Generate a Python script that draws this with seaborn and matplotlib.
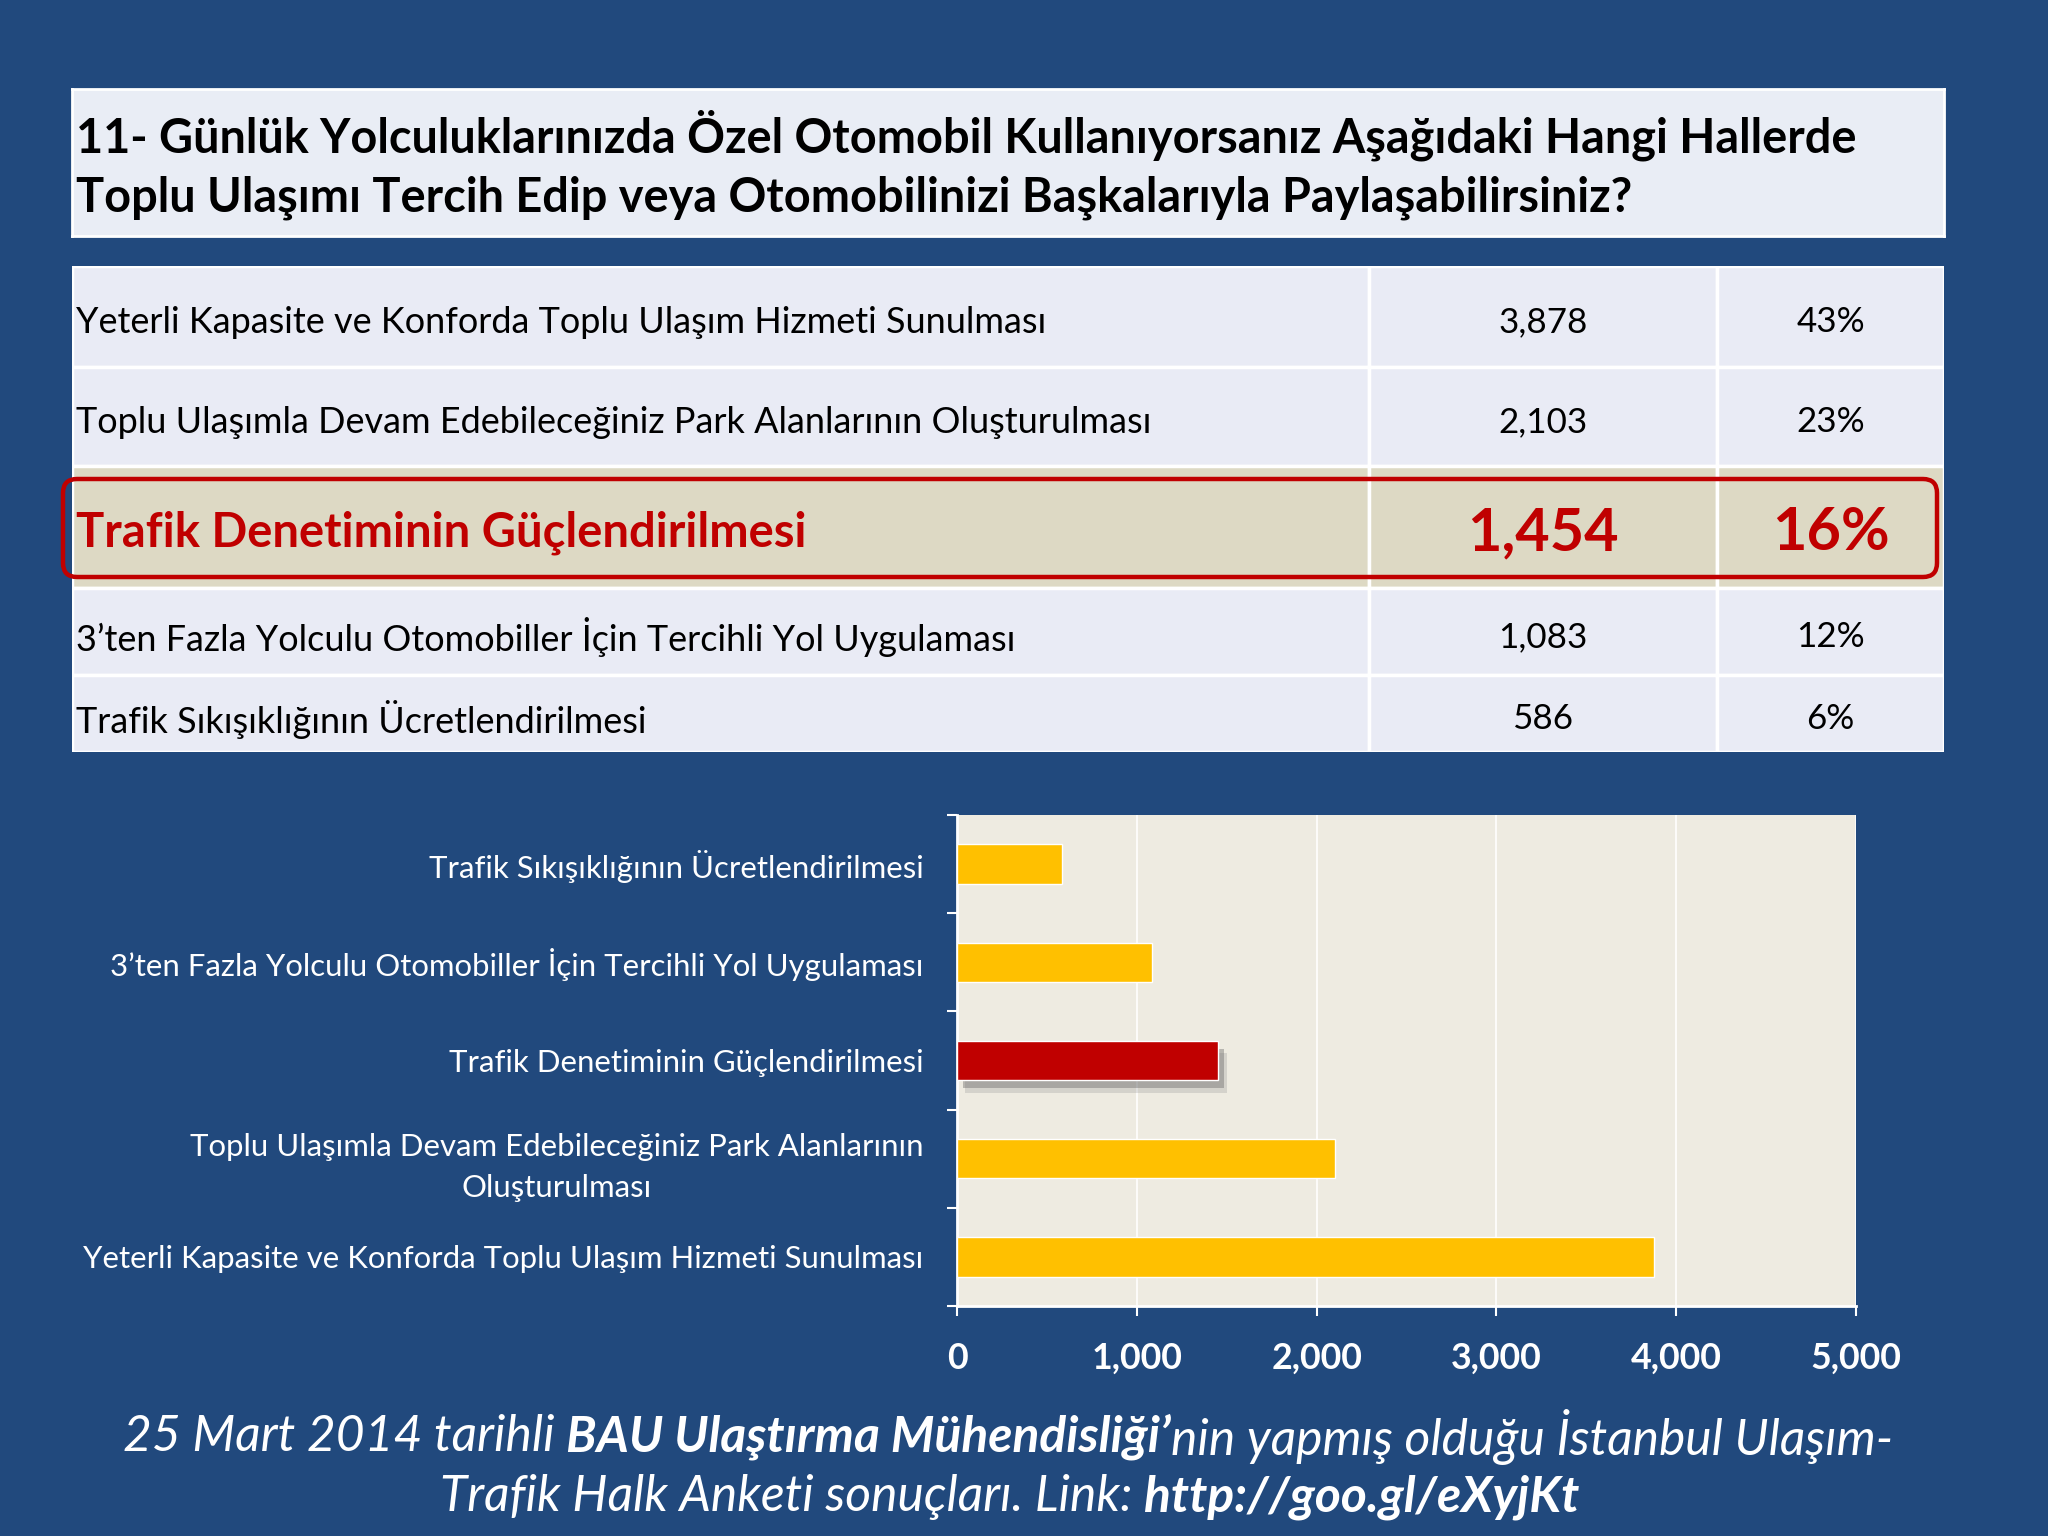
import matplotlib
matplotlib.use("Agg")
import matplotlib.pyplot as plt
import matplotlib.patheffects as pe
from matplotlib.patches import Rectangle, FancyBboxPatch
from matplotlib.ticker import FixedLocator
import seaborn as sns
import pandas as pd

# ---------------- data ----------------
title_lines = [
    "11- Günlük Yolculuklarınızda Özel Otomobil Kullanıyorsanız Aşağıdaki Hangi Hallerde",
    "Toplu Ulaşımı Tercih Edip veya Otomobilinizi Başkalarıyla Paylaşabilirsiniz?",
]
categories = [
    "Yeterli Kapasite ve Konforda Toplu Ulaşım Hizmeti Sunulması",
    "Toplu Ulaşımla Devam Edebileceğiniz Park Alanlarının Oluşturulması",
    "Trafik Denetiminin Güçlendirilmesi",
    "3’ten Fazla Yolculu Otomobiller İçin Tercihli Yol Uygulaması",
    "Trafik Sıkışıklığının Ücretlendirilmesi",
]
counts = [3878, 2103, 1454, 1083, 586]
percents = [43, 23, 16, 12, 6]
highlight = "Trafik Denetiminin Güçlendirilmesi"
chart_labels = {
    "Toplu Ulaşımla Devam Edebileceğiniz Park Alanlarının Oluşturulması":
        "Toplu Ulaşımla Devam Edebileceğiniz Park Alanlarının\nOluşturulması",
}
xticks = [0, 1000, 2000, 3000, 4000, 5000]
footer_line1 = [("25 Mart 2014 tarihli ", False), ("BAU Ulaştırma Mühendisliği’", True),
                ("nin yapmış olduğu İstanbul Ulaşım-", False)]
footer_line2 = [("Trafik Halk Anketi sonuçları. Link: ", False), ("http://goo.gl/eXyjKt", True)]

# ---------------- style ----------------
sns.set_theme(style="white")
FONT = ["Lato", "DejaVu Sans"]
plt.rcParams["font.family"] = FONT

W, H = 2048, 1536
BG = "#21497D"
CELL = "#E9EBF5"
HL_CELL = "#DDD9C4"
RED = "#C00000"
YELLOW = "#FFC000"
CHART_BG = "#EEEBE1"

fig = plt.figure(figsize=(W / 100, H / 100), dpi=100, facecolor=BG)
renderer = fig.canvas.get_renderer()


def axes_px(x0, y0, x1, y1):
    return fig.add_axes([x0 / W, 1 - y1 / H, (x1 - x0) / W, (y1 - y0) / H])


def text_w(s, size, weight="normal", style="normal"):
    t1 = fig.text(0, 0, "|" + s + "|", fontsize=size, fontweight=weight, fontstyle=style)
    t2 = fig.text(0, 0, "||", fontsize=size, fontweight=weight, fontstyle=style)
    w = t1.get_window_extent(renderer).width - t2.get_window_extent(renderer).width
    t1.remove(); t2.remove()
    return w


def fit(s, target, weight="normal", style="normal", base=20):
    return base * target / text_w(s, base, weight, style)


# ---------------- title box ----------------
ax_t = axes_px(72, 89, 1944, 236)
ax_t.set_facecolor("#E9EDF5")
ax_t.set_xlim(72, 1944)
ax_t.set_ylim(236, 89)
ax_t.set_xticks([]); ax_t.set_yticks([])
for s in ax_t.spines.values():
    s.set_color("white"); s.set_linewidth(2)
title_size = fit(title_lines[0], 1780, weight="bold")
for line, yc in zip(title_lines, [135, 198]):
    ax_t.text(76, yc, line, fontsize=title_size, fontweight="bold", color="black",
              ha="left", va="center")

# ---------------- table ----------------
row_edges = [266, 367, 466, 588, 675, 752]
col_edges = [72, 1369, 1717, 1944]
ax_tab = axes_px(72, 266, 1944, 752)
ax_tab.set_xlim(72, 1944)
ax_tab.set_ylim(752, 266)
ax_tab.axis("off")

lab_size = fit(categories[0], 973)
num_size = fit(f"{counts[0]:,}", 89)
hl_lab_size = fit(highlight, 731, weight="bold")
hl_num_size = fit(f"{counts[categories.index(highlight)]:,}", 152, weight="bold")

for i, (cat, c, p) in enumerate(zip(categories, counts, percents)):
    top, bot = row_edges[i], row_edges[i + 1]
    hl = cat == highlight
    for j in range(3):
        ax_tab.add_patch(Rectangle((col_edges[j], top), col_edges[j + 1] - col_edges[j], bot - top,
                                   facecolor=HL_CELL if hl else CELL, edgecolor="white", lw=2.5))
    yc = (top + bot) / 2 + 6
    kw = dict(fontsize=hl_lab_size if hl else lab_size, fontweight="bold" if hl else "normal",
              color=RED if hl else "black", va="center")
    ax_tab.text(76, yc, cat, ha="left", **kw)
    kw["fontsize"] = hl_num_size if hl else num_size
    ax_tab.text((col_edges[1] + col_edges[2]) / 2, yc, f"{c:,}", ha="center", **kw)
    ax_tab.text((col_edges[2] + col_edges[3]) / 2, yc, f"{p}%", ha="center", **kw)
    if hl:
        ax_tab.add_patch(FancyBboxPatch((63, top + 13), 1874, bot - top - 24,
                                        boxstyle="round,pad=0,rounding_size=14",
                                        facecolor="none", edgecolor=RED, lw=3.2,
                                        clip_on=False, zorder=5))

# ---------------- bar chart ----------------
chart_order = list(reversed(categories))
df = pd.DataFrame({"kategori": chart_order,
                   "sayi": [counts[categories.index(c)] for c in chart_order]})
palette = {c: (RED if c == highlight else YELLOW) for c in chart_order}

ax_c = axes_px(957, 815, 1856, 1306)
ax_c.set_facecolor(CHART_BG)
sns.barplot(data=df, x="sayi", y="kategori", hue="kategori", order=chart_order,
            palette=palette, saturation=1, width=0.4, legend=False, ax=ax_c, zorder=3)
for patch in ax_c.patches:
    if matplotlib.colors.to_hex(patch.get_facecolor()).upper() == RED:
        patch.set_path_effects([
            pe.SimplePatchShadow(offset=(6, -9), shadow_rgbFace="#8a8a8a", alpha=0.25),
            pe.SimplePatchShadow(offset=(4, -6), shadow_rgbFace="#666666", alpha=0.4),
            pe.Normal()])

ax_c.set_xlim(0, 5000)
ax_c.set_ylim(len(chart_order) - 0.5, -0.5)
ax_c.set_xlabel(""); ax_c.set_ylabel("")
ax_c.set_xticks(xticks)
xt_size = fit("1,000", 92, weight="bold")
ax_c.set_xticklabels([f"{v:,}" for v in xticks], fontsize=xt_size, fontweight="bold", color="white")
ax_c.set_yticks(range(len(chart_order)))
yt_size = fit(categories[0], 842)
ax_c.set_yticklabels([chart_labels.get(c, c) for c in chart_order], fontsize=yt_size,
                     color="white", multialignment="center", linespacing=1.55)
ax_c.yaxis.set_minor_locator(FixedLocator([i - 0.5 for i in range(len(chart_order) + 1)]))
ax_c.tick_params(axis="y", which="major", length=0, pad=24)
ax_c.tick_params(axis="y", which="minor", length=7, width=1.5, color="white", direction="out", left=True)
ax_c.tick_params(axis="x", which="major", length=7, width=1.5, color="white", direction="out",
                 bottom=True, pad=19)
ax_c.xaxis.grid(True, color="white", lw=1.2, zorder=0)
ax_c.set_axisbelow(True)
for side in ["top", "right"]:
    ax_c.spines[side].set_visible(False)
for side in ["left", "bottom"]:
    ax_c.spines[side].set_color("white"); ax_c.spines[side].set_linewidth(2)


# ---------------- footer ----------------
def rich_line(pieces, size, xc, yc):
    widths = [text_w(s, size, "bold" if b else "normal", "italic") for s, b in pieces]
    x = xc - sum(widths) / 2
    for (s, b), w in zip(pieces, widths):
        fig.text(x / W, 1 - yc / H, s, fontsize=size, fontstyle="italic",
                 fontweight="bold" if b else "normal", color="white", ha="left", va="center")
        x += w


base = 20
tot = sum(text_w(s, base, "bold" if b else "normal", "italic") for s, b in footer_line1)
foot_size = base * 1767 / tot
rich_line(footer_line1, foot_size, 1008, 1437)
rich_line(footer_line2, foot_size, 1010, 1497)

fig.savefig("out.png", dpi=100, facecolor=BG)
